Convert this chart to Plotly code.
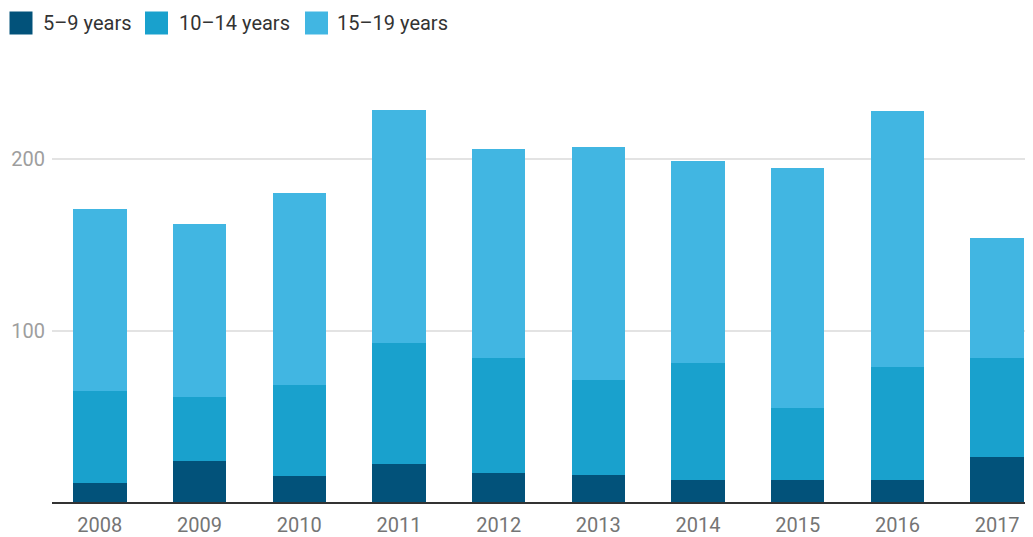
import plotly.graph_objects as go

years = ["2008", "2009", "2010", "2011", "2012", "2013", "2014", "2015", "2016", "2017"]
age_5_9 = [11, 24, 15, 22, 17, 16, 13, 13, 13, 26]
age_10_14 = [54, 37, 53, 71, 67, 55, 68, 42, 66, 58]
age_15_19 = [106, 101, 112, 136, 122, 136, 118, 140, 149, 70]
series_names = ["5–9 years", "10–14 years", "15–19 years"]
colors = ["#02527a", "#19a1cd", "#41b6e2"]
y_ticks = [100, 200]

W, H = 1033, 537
ML, MR, MT, MB = 44, 0, 77, 43
PW, PH = W - ML - MR, H - MT - MB


def px_x(v):
    return (v - ML) / PW


def px_y(v):
    return (H - MB - v) / PH


fig = go.Figure()
for name, vals, col in zip(series_names, [age_5_9, age_10_14, age_15_19], colors):
    fig.add_trace(go.Bar(x=years, y=vals, name=name, showlegend=False,
                         marker=dict(color=col, line=dict(width=0))))

# custom legend (larger swatches than Plotly's native legend)
legend_x = [1.5, 137, 297]
text_x = [33, 168.5, 327]
shapes, annotations = [], []
for lx, tx, name, col in zip(legend_x, text_x, series_names, colors):
    shapes.append(dict(type="rect", xref="paper", yref="paper",
                       x0=px_x(lx), x1=px_x(lx + 23), y0=px_y(3.5), y1=px_y(26.5),
                       fillcolor=col, line=dict(width=0), layer="above"))
    annotations.append(dict(text=name, xref="paper", yref="paper", x=px_x(tx), y=px_y(15),
                            xanchor="left", yanchor="middle", showarrow=False,
                            font=dict(size=20, color="#333333")))

fig.update_layout(
    width=W, height=H,
    barmode="stack", bargap=0.465,
    paper_bgcolor="white", plot_bgcolor="white",
    margin=dict(l=ML, r=MR, t=MT, b=MB, autoexpand=False),
    font=dict(family="Roboto", size=20, color="#333333"),
    showlegend=False,
    shapes=shapes, annotations=annotations,
    xaxis=dict(type="category", range=[-0.48, 9.44], showgrid=False, automargin=False,
               showline=True, linecolor="#333333", linewidth=2,
               tickfont=dict(size=20, color="#757575"), ticks="", ticklabelstandoff=4),
    yaxis=dict(range=[0, 243.3], tickvals=y_ticks, showgrid=True, gridcolor="#e3e3e3",
               gridwidth=1.5, zeroline=False, showline=False, automargin=False,
               tickfont=dict(size=20, color="#9e9e9e"), ticks="", ticklabelstandoff=6),
)
fig.write_html("out.html")
